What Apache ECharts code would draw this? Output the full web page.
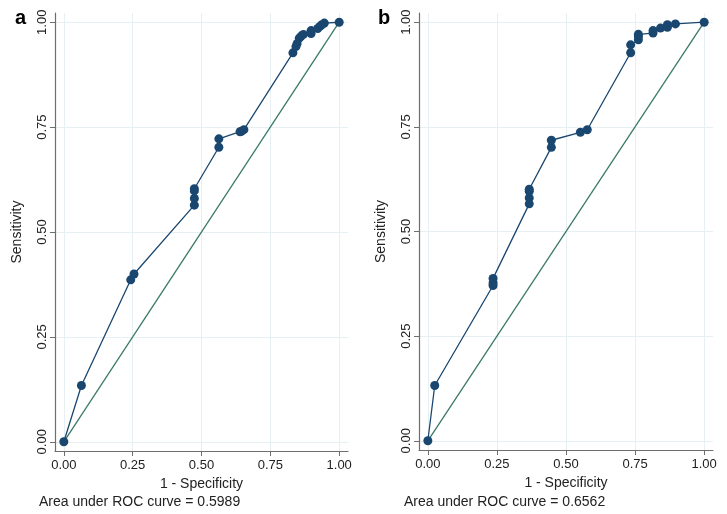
<!DOCTYPE html>
<html><head><meta charset="utf-8">
<script src="https://cdn.jsdelivr.net/npm/echarts@6/dist/echarts.min.js"></script>
<style>html,body{margin:0;padding:0;background:#fff}#c{width:727px;height:514px}</style>
</head><body><div id="c"></div>
<script>
// Panel a ROC points
const fprA  = [0, 0.064, 0.243, 0.255, 0.474, 0.474, 0.474, 0.474, 0.563, 0.563, 0.640, 0.645, 0.654, 0.832, 0.843, 0.847, 0.855, 0.862, 0.870, 0.898, 0.898, 0.922, 0.930, 0.937, 0.946, 1];
const sensA = [0, 0.134, 0.386, 0.400, 0.564, 0.580, 0.598, 0.603, 0.702, 0.722, 0.739, 0.740, 0.744, 0.927, 0.942, 0.949, 0.962, 0.967, 0.971, 0.973, 0.980, 0.985, 0.990, 0.994, 0.998, 1];
// Panel b ROC points
const fprB  = [0, 0.025, 0.236, 0.236, 0.236, 0.367, 0.367, 0.367, 0.367, 0.447, 0.447, 0.552, 0.577, 0.734, 0.734, 0.762, 0.762, 0.762, 0.815, 0.815, 0.842, 0.867, 0.867, 0.896, 1];
const sensB = [0, 0.132, 0.371, 0.377, 0.388, 0.566, 0.580, 0.596, 0.601, 0.701, 0.718, 0.737, 0.743, 0.927, 0.946, 0.958, 0.966, 0.971, 0.974, 0.980, 0.986, 0.988, 0.994, 0.996, 1];
const refX = [0, 1];
const refY = [0, 1];
const ticks = [0, 0.25, 0.5, 0.75, 1];
const tickLabels = ['0.00', '0.25', '0.50', '0.75', '1.00'];
const panelLetters = ['a', 'b'];
const aucTexts = ['Area under ROC curve = 0.5989', 'Area under ROC curve = 0.6562'];
const xName = '1 - Specificity';
const yName = 'Sensitivity';

const NAVY = '#1a476f', GREEN = '#3b7a68', GRID = '#e6eff1', AXIS = '#6e6e6e', TXT = '#222';
const FONT = 'Liberation Sans, Arial, sans-serif';
const zip = (a, b) => a.map((v, i) => [v, b[i]]);
const fmt = v => { const i = ticks.findIndex(t => Math.abs(t - v) < 1e-6); return i >= 0 ? tickLabels[i] : ''; };

function xAxis(gi) {
  return {
    type: 'value', gridIndex: gi, min: -0.032, max: 1.032,
    name: xName, nameLocation: 'middle', nameGap: 24,
    nameTextStyle: { color: TXT, fontSize: 14, fontFamily: FONT },
    axisLine: { show: true, onZero: false, lineStyle: { color: AXIS, width: 1.2 } },
    axisTick: { show: true, length: 5, customValues: ticks, lineStyle: { color: AXIS } },
    axisLabel: { customValues: ticks, formatter: fmt, color: TXT, fontSize: 13, fontFamily: FONT, margin: 8 },
    splitLine: { show: true, lineStyle: { color: GRID, width: 1 } }
  };
}
function yAxis(gi) {
  return {
    type: 'value', gridIndex: gi, min: -0.022, max: 1.022,
    name: yName, nameLocation: 'middle', nameGap: 31, nameRotate: 90,
    nameTextStyle: { color: TXT, fontSize: 14, fontFamily: FONT },
    axisLine: { show: true, onZero: false, lineStyle: { color: AXIS, width: 1.2 } },
    axisTick: { show: true, length: 5, customValues: ticks, lineStyle: { color: AXIS } },
    axisLabel: { customValues: ticks, formatter: fmt, rotate: 90, color: TXT, fontSize: 13, fontFamily: FONT, margin: 6 },
    splitLine: { show: true, lineStyle: { color: GRID, width: 1 } }
  };
}
function refSeries(gi) {
  return { type: 'line', xAxisIndex: gi, yAxisIndex: gi, data: zip(refX, refY), showSymbol: false, symbol: 'none',
    lineStyle: { color: GREEN, width: 1.3 }, silent: true, z: 2 };
}
function rocSeries(gi, xs, ys) {
  return { type: 'line', xAxisIndex: gi, yAxisIndex: gi, data: zip(xs, ys), symbol: 'circle', symbolSize: 9,
    itemStyle: { color: NAVY }, lineStyle: { color: NAVY, width: 1.3 }, silent: true, z: 3 };
}

const chart = echarts.init(document.getElementById('c'), null, { renderer: 'canvas' });
chart.setOption({
  animation: false,
  backgroundColor: '#fff',
  grid: [
    { left: 55, right: 379, top: 13, bottom: 63, containLabel: false },
    { left: 419, right: 14, top: 13, bottom: 64, containLabel: false }
  ],
  xAxis: [xAxis(0), xAxis(1)],
  yAxis: [yAxis(0), yAxis(1)],
  title: [
    { text: panelLetters[0], left: 10, top: 3, textStyle: { fontSize: 20, fontWeight: 'bold', color: '#000', fontFamily: FONT } },
    { text: panelLetters[1], left: 373, top: 3, textStyle: { fontSize: 20, fontWeight: 'bold', color: '#000', fontFamily: FONT } },
    { text: aucTexts[0], left: 34, top: 490, textStyle: { fontSize: 14, fontWeight: 'normal', color: TXT, fontFamily: FONT } },
    { text: aucTexts[1], left: 399, top: 490, textStyle: { fontSize: 14, fontWeight: 'normal', color: TXT, fontFamily: FONT } }
  ],
  series: [refSeries(0), rocSeries(0, fprA, sensA), refSeries(1), rocSeries(1, fprB, sensB)]
});
</script></body></html>
